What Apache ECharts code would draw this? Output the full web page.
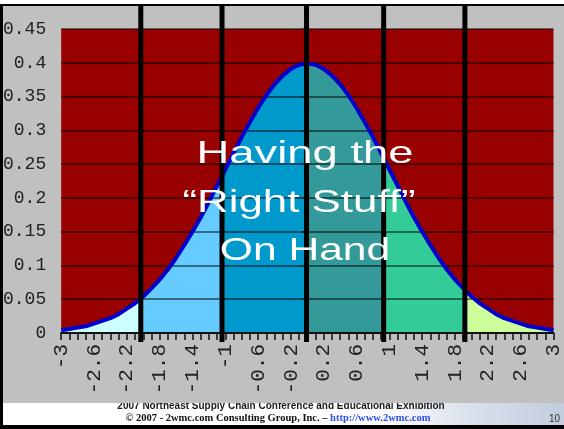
<!DOCTYPE html>
<html>
<head>
<meta charset="utf-8">
<script src="https://cdn.jsdelivr.net/npm/echarts@6/dist/echarts.min.js"></script>
<style>html,body{margin:0;padding:0;background:#fff;}#c{width:564px;height:429px;}</style>
</head>
<body>
<div id="c"></div>
<script>
// x categories (standard deviations)
const X = [-3,-2.9,-2.8,-2.7,-2.6,-2.5,-2.4,-2.3,-2.2,-2.1,-2,-1.9,-1.8,-1.7,-1.6,-1.5,-1.4,-1.3,-1.2,-1.1,-1,-0.9,-0.8,-0.7,-0.6,-0.5,-0.4,-0.3,-0.2,-0.1,0,0.1,0.2,0.3,0.4,0.5,0.6,0.7,0.8,0.9,1,1.1,1.2,1.3,1.4,1.5,1.6,1.7,1.8,1.9,2,2.1,2.2,2.3,2.4,2.5,2.6,2.7,2.8,2.9,3];
// curve height
const Y = [0.004,0.006,0.008,0.010,0.014,0.018,0.022,0.028,0.036,0.044,0.054,0.066,0.079,0.094,0.111,0.130,0.150,0.171,0.194,0.218,0.242,0.266,0.290,0.312,0.333,0.352,0.368,0.381,0.391,0.397,0.399,0.397,0.391,0.381,0.368,0.352,0.333,0.312,0.290,0.266,0.242,0.218,0.194,0.171,0.150,0.130,0.111,0.094,0.079,0.066,0.054,0.044,0.036,0.028,0.022,0.018,0.014,0.010,0.008,0.006,0.004];
// x tick labels shown
const X_LABELS = ['-3','-2.6','-2.2','-1.8','-1.4','-1','-0.6','-0.2','0.2','0.6','1','1.4','1.8','2.2','2.6','3'];
// y tick labels
const Y_LABELS = ['0','0.05','0.1','0.15','0.2','0.25','0.3','0.35','0.4','0.45'];
// positions of the thick dividers (as drawn)
const DIVIDERS = [-2.03,-1.04,-0.01,0.93,1.92];
// region fill colours, left to right
const REGION_COLORS = ['#ccffff','#66ccff','#0099cc','#339999','#33cc99','#ccff99'];

const pieces = [];
for (let i = 0; i < REGION_COLORS.length; i++) {
  const p = { color: REGION_COLORS[i] };
  if (i > 0) p.gte = DIVIDERS[i - 1];
  if (i < DIVIDERS.length) p.lt = DIVIDERS[i];
  pieces.push(p);
}

const chart = echarts.init(document.getElementById('c'), null, { renderer: 'canvas' });
const pts = X.map((x, i) => [x, Y[i]]);

chart.setOption({
  animation: false,
  backgroundColor: '#ffffff',
  grid: { left: 60, right: 7, top: 29, bottom: 96, show: true, backgroundColor: '#990000', borderWidth: 0 },
  xAxis: {
    type: 'value', min: -3, max: 3, interval: 0.1, z: 3,
    axisLine: { show: true, lineStyle: { color: '#111', width: 2 } },
    axisTick: { show: true, length: 7, lineStyle: { color: '#111', width: 1.5 } },
    splitLine: { show: false },
    axisLabel: {
      rotate: 90, margin: 11, fontFamily: 'Liberation Mono', fontSize: 21, color: '#222',
      showMinLabel: true, showMaxLabel: true,
      formatter: function (v) { const s = String(Math.round(v * 10) / 10); return X_LABELS.indexOf(s) >= 0 ? s : ''; }
    }
  },
  yAxis: {
    type: 'value', min: 0, max: 0.45, interval: 0.05, z: 3,
    axisLine: { show: true, lineStyle: { color: '#222', width: 1.5 } },
    axisTick: { show: true, length: 6, lineStyle: { color: '#222', width: 1.5 } },
    splitLine: { show: true, lineStyle: { color: 'rgba(0,0,0,0.65)', width: 1.5 } },
    axisLabel: {
      margin: 15, fontFamily: 'Liberation Mono', fontSize: 18, color: '#222',
      formatter: function (v, i) { return Y_LABELS[i]; }
    }
  },
  visualMap: { show: false, type: 'piecewise', dimension: 0, seriesIndex: 0, pieces: pieces },
  series: [
    { type: 'line', data: pts, z: 2, showSymbol: false, symbol: 'none',
      lineStyle: { width: 0 }, areaStyle: { opacity: 1 } },
    { type: 'line', data: pts, z: 4, showSymbol: false, symbol: 'none',
      lineStyle: { color: '#0000cc', width: 4 } },
    { type: 'custom', z: 6, silent: true, data: DIVIDERS.map(v => [v, 0]),
      renderItem: function (params, api) {
        const b = api.coord([api.value(0), 0]);
        const t = api.coord([api.value(0), 0.45]);
        return { type: 'line', shape: { x1: b[0], y1: t[1] - 24, x2: b[0], y2: b[1] + 9 },
                 style: { stroke: '#000', lineWidth: 5 } };
      } }
  ],
  graphic: [
    { type: 'rect', z: -1, silent: true, shape: { x: 3, y: 6, width: 561, height: 397 }, style: { fill: '#c0c0c0' } },
    { type: 'rect', z: -3, silent: true, shape: { x: 380, y: 403, width: 184, height: 22 },
      style: { fill: new echarts.graphic.LinearGradient(0, 0, 1, 0, [
        { offset: 0, color: 'rgba(170,185,210,0)' }, { offset: 0.5, color: 'rgba(170,185,210,0.45)' }, { offset: 1, color: 'rgba(150,170,200,0.6)' }]) } },
    { type: 'text', z: -2, silent: true, x: 281, y: 411.5,
      style: { text: '2007 Northeast Supply Chain Conference and Educational Exhibition', font: 'bold 10px "Liberation Sans"', fill: '#1a1a1a', textAlign: 'center', align: 'center', textVerticalAlign: 'bottom', verticalAlign: 'bottom' } },
    { type: 'text', z: 10, silent: true, x: 278, y: 424,
      style: { text: '{k|© 2007 - 2wmc.com Consulting Group, Inc. – }{u|http://www.2wmc.com}', textAlign: 'center', align: 'center', textVerticalAlign: 'bottom', verticalAlign: 'bottom',
        rich: { k: { font: 'bold 10.5px "Liberation Serif"', fill: '#111' }, u: { font: 'bold 10.5px "Liberation Serif"', fill: '#2a4ff0' } } } },
    { type: 'text', z: 10, silent: true, x: 560, y: 424,
      style: { text: '10', font: '10px "Liberation Sans"', fill: '#333', textAlign: 'right', align: 'right', textVerticalAlign: 'bottom', verticalAlign: 'bottom' } },
    { type: 'rect', z: 10, silent: true, shape: { x: 0, y: 4, width: 564, height: 2 }, style: { fill: '#000' } },
    { type: 'rect', z: 10, silent: true, shape: { x: 0, y: 4, width: 3, height: 425 }, style: { fill: '#000' } },
    { type: 'rect', z: 10, silent: true, shape: { x: 0, y: 425, width: 564, height: 4 }, style: { fill: '#000' } },
    { type: 'text', z: 20, silent: true, x: 305, y: 154, scaleX: 1.42,
      style: { text: 'Having the', font: '32px "Liberation Sans"', fill: '#fff', textAlign: 'center', align: 'center', textVerticalAlign: 'middle', verticalAlign: 'middle' } },
    { type: 'text', z: 20, silent: true, x: 299, y: 203, scaleX: 1.37,
      style: { text: '“Right Stuff”', font: '32px "Liberation Sans"', fill: '#fff', textAlign: 'center', align: 'center', textVerticalAlign: 'middle', verticalAlign: 'middle' } },
    { type: 'text', z: 20, silent: true, x: 305, y: 251, scaleX: 1.33,
      style: { text: 'On Hand', font: '32px "Liberation Sans"', fill: '#fff', textAlign: 'center', align: 'center', textVerticalAlign: 'middle', verticalAlign: 'middle' } }
  ]
});
</script>
</body>
</html>
